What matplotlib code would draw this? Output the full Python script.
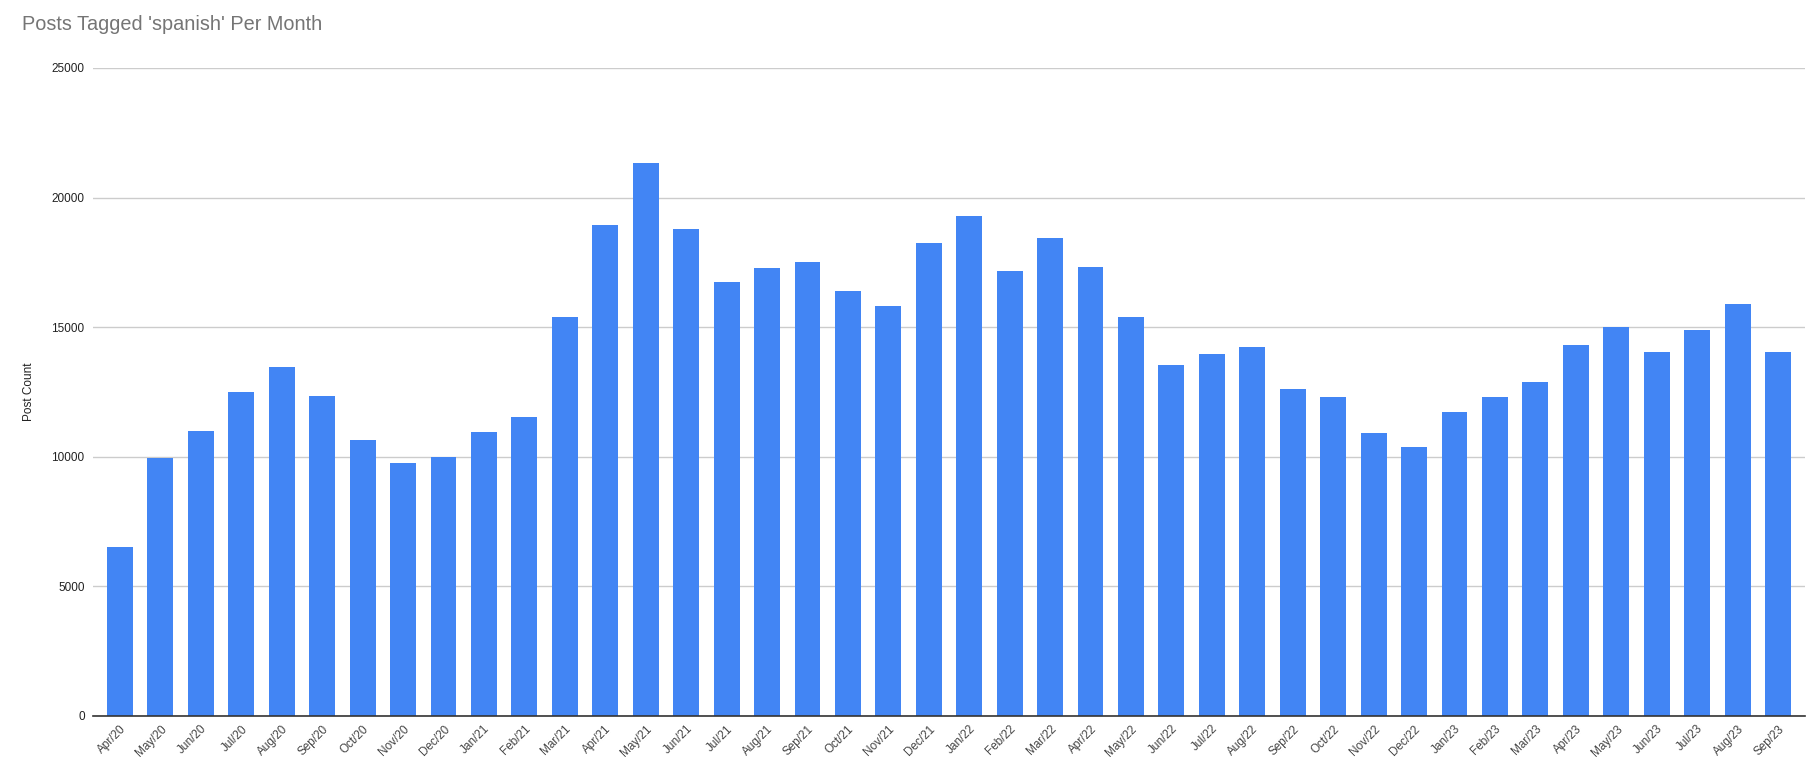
# Posts tagged 'spanish' per month - bar chart

import numpy as np
import matplotlib.pyplot as plt

# Data
months = ['Apr/20', 'May/20', 'Jun/20', 'Jul/20', 'Aug/20', 'Sep/20', 'Oct/20', 'Nov/20', 'Dec/20',
          'Jan/21', 'Feb/21', 'Mar/21', 'Apr/21', 'May/21', 'Jun/21', 'Jul/21', 'Aug/21', 'Sep/21',
          'Oct/21', 'Nov/21', 'Dec/21', 'Jan/22', 'Feb/22', 'Mar/22', 'Apr/22', 'May/22', 'Jun/22',
          'Jul/22', 'Aug/22', 'Sep/22', 'Oct/22', 'Nov/22', 'Dec/22', 'Jan/23', 'Feb/23', 'Mar/23',
          'Apr/23', 'May/23', 'Jun/23', 'Jul/23', 'Aug/23', 'Sep/23']
post_count = [6520, 9950, 10990, 12490, 13450, 12330, 10640, 9760, 10000,
              10950, 11530, 15410, 18950, 21330, 18800, 16760, 17300, 17530,
              16410, 15830, 18250, 19300, 17180, 18450, 17330, 15410, 13530,
              13950, 14220, 12600, 12300, 10910, 10370, 11720, 12300, 12870,
              14330, 14990, 14060, 14910, 15910, 14060]
y_ticks = [0, 5000, 10000, 15000, 20000, 25000]

plt.rcParams['font.family'] = ['Liberation Sans', 'DejaVu Sans']

fig = plt.figure(figsize=(18.18, 7.72), dpi=100)
ax = fig.add_axes([93 / 1818, 1 - 716 / 772, (1805 - 93) / 1818, (716 - 68) / 772])

x = np.arange(len(months))
ax.bar(x, post_count, width=0.64, color='#4285F4', zorder=3)

ax.set_xlim(-0.667, len(months) - 1 + 0.667)
ax.set_ylim(0, 25000)
ax.set_yticks(y_ticks)
ax.set_yticklabels([str(v) for v in y_ticks], fontsize=8.5, color='#222222')
ax.set_xticks(x)
ax.set_xticklabels(months, rotation=45, ha='right', rotation_mode='anchor',
                   fontsize=8.5, color='#444444')
ax.tick_params(axis='both', length=0)
ax.tick_params(axis='y', pad=6)
ax.tick_params(axis='x', pad=5)

# Grid and frame
ax.grid(axis='y', color='#cccccc', linewidth=1, zorder=0)
for side in ['top', 'right', 'left']:
    ax.spines[side].set_visible(False)
ax.spines['bottom'].set_color('#333333')
ax.spines['bottom'].set_linewidth(1.2)
ax.spines['bottom'].set_zorder(4)

ax.set_ylabel('Post Count', fontsize=8.5, color='#222222')
ax.yaxis.set_label_coords((35 - 93) / 1712, 0.5)

fig.text(22 / 1818, 1 - 24 / 772, "Posts Tagged 'spanish' Per Month",
         fontsize=14.3, color='#757575', ha='left', va='center')

plt.savefig('out.png', dpi=100)
